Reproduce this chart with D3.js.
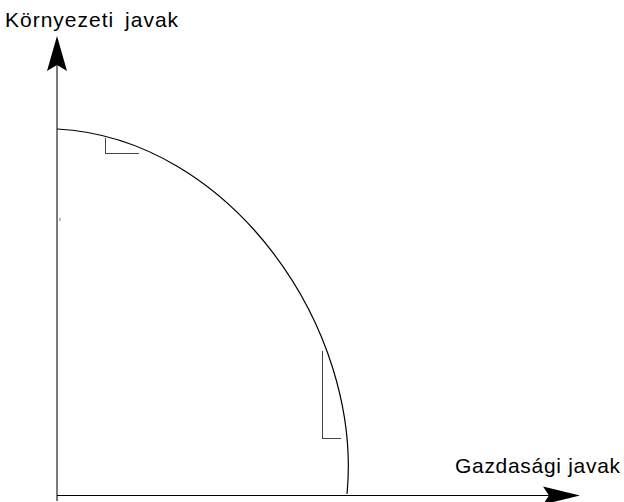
<!DOCTYPE html>
<html>
<head>
<meta charset="utf-8">
<script src="https://cdn.jsdelivr.net/npm/d3@7"></script>
<style>
  body { margin: 0; background: #fff; }
  text { font-family: "Liberation Sans", Arial, sans-serif; fill: #000; }
</style>
</head>
<body>
<div id="chart"></div>
<script>
// production possibility frontier drawn as one cubic curve:
// start, two control points, end (arbitrary units)
const curveX = [0, 173, 306, 290];
const curveY = [366, 357, 167, 1];

// right-angle markers: corner, top of vertical leg, end of horizontal leg
const markCornerX = [48, 265];
const markCornerY = [342, 57];
const markTopY = [357, 144];
const markRightX = [82, 284];

const xLabel = "Gazdasági javak";
const yLabel = "Környezeti javak";

(function frontier(){
    let width = 624,
    height = 502

    const svg = d3.select("#chart")
    .append("svg")
    .attr("width", width)
    .attr("height", height);

    let x = d3.scaleLinear().domain([0, 520]).range([57, 577]);
    let y = d3.scaleLinear().domain([0, 460]).range([495, 35]);

    // axes
    svg.append("line")
    .attr("x1", x(0)).attr("y1", y(-6))
    .attr("x2", x(0)).attr("y2", y(430))
    .attr("stroke", "#444")
    .attr("stroke-width", 1.4);

    svg.append("line")
    .attr("x1", x(0)).attr("y1", y(0) + 0.5)
    .attr("x2", x(495)).attr("y2", y(0) + 0.5)
    .attr("stroke", "#000")
    .attr("stroke-width", 1.2);

    // arrow heads
    svg.append("path")
    .attr("d", `M${x(0)},${y(459)} L${x(0) - 10},${y(424)} L${x(0)},${y(430)} L${x(0) + 10},${y(424)} Z`)
    .attr("fill", "#000");

    svg.append("path")
    .attr("d", `M${x(523)},${y(0) + 0.5} L${x(486)},${y(0) - 8.5} L${x(492)},${y(0) + 0.5} L${x(486)},${y(0) + 9.5} Z`)
    .attr("fill", "#000");

    // tiny tick on y axis
    svg.append("line")
    .attr("x1", x(3)).attr("y1", y(277))
    .attr("x2", x(3)).attr("y2", y(274))
    .attr("stroke", "#777")
    .attr("stroke-width", 1);

    // frontier curve
    const p = d3.path();
    p.moveTo(x(curveX[0]), y(curveY[0]));
    p.bezierCurveTo(x(curveX[1]), y(curveY[1]),
                    x(curveX[2]), y(curveY[2]),
                    x(curveX[3]), y(curveY[3]));

    svg.append("path")
    .attr("d", p.toString())
    .attr("fill", "none")
    .attr("stroke", "#000")
    .attr("stroke-width", 1.2);

    // right-angle markers
    markCornerX.forEach((cx, i) => {
        svg.append("path")
        .attr("d", `M${x(cx)},${y(markTopY[i])} L${x(cx)},${y(markCornerY[i])} L${x(markRightX[i])},${y(markCornerY[i])}`)
        .attr("fill", "none")
        .attr("stroke", "#444")
        .attr("stroke-width", 1)
        .attr("shape-rendering", "crispEdges");
    });

    // labels
    svg.append("text")
    .attr("x", 5)
    .attr("y", 27)
    .attr("font-size", 21)
    .attr("letter-spacing", 1)
    .attr("word-spacing", 4)
    .text(yLabel);

    svg.append("text")
    .attr("x", 455)
    .attr("y", 473)
    .attr("font-size", 21)
    .attr("letter-spacing", 0.7)
    .text(xLabel);
})();
</script>
</body>
</html>
